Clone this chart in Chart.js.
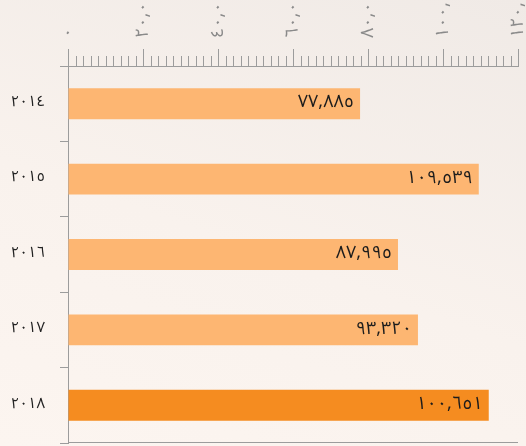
<!DOCTYPE html>
<html>
<head>
<meta charset="utf-8">
<script src="https://cdn.jsdelivr.net/npm/chart.js@4/dist/chart.umd.min.js"></script>
<style>
  html, body { margin: 0; padding: 0; }
  body {
    width: 526px; height: 446px; overflow: hidden;
    background: linear-gradient(20deg, #fcf5f0 0%, #f9f2ed 45%, #f0eae6 100%);
  }
  canvas { display: block; }
</style>
</head>
<body>
<canvas id="container" width="526" height="446"></canvas>
<script>
let years = ['2014', '2015', '2016', '2017', '2018'];
// bar lengths as drawn
let values = [77885, 109539, 87995, 93320, 112200];
// numbers printed on the bars
let shownValues = [77885, 109539, 87995, 93320, 100651];
let barColors = ['#fdb672', '#fdb672', '#fdb672', '#fdb672', '#f58c20'];
let xMax = 120000;
let majorStep = 20000;
let minorStep = 2000;

const arDigits = '٠١٢٣٤٥٦٧٨٩';
function toAr(s) {
  return String(s).replace(/[0-9]/g, d => arDigits[d]);
}
function fmt(n) {
  return toAr(Number(n).toLocaleString('en-US'));
}

const axisColor = '#9c9c9c';
const fontFamily = '"Noto Sans Arabic", "DejaVu Sans", sans-serif';

// short ticks between the labelled ones, plus the line under the plot
const minorTicks = {
  id: 'minorTicks',
  afterDraw(chart) {
    const x = chart.scales.x;
    const ctx = chart.ctx;
    const area = chart.chartArea;
    ctx.save();
    ctx.strokeStyle = axisColor;
    ctx.lineWidth = 1;
    for (let v = 0; v <= xMax; v += minorStep) {
      if (v % majorStep === 0) continue;
      const px = Math.round(x.getPixelForValue(v)) + 0.5;
      ctx.beginPath();
      ctx.moveTo(px, x.bottom - 10);
      ctx.lineTo(px, x.bottom);
      ctx.stroke();
    }
    const by = Math.round(area.bottom) - 0.5;
    ctx.beginPath();
    ctx.moveTo(area.left, by);
    ctx.lineTo(area.right, by);
    ctx.stroke();
    ctx.restore();
  }
};

const barLabels = {
  id: 'barLabels',
  afterDatasetsDraw(chart) {
    const ctx = chart.ctx;
    const meta = chart.getDatasetMeta(0);
    ctx.save();
    ctx.font = '18px ' + fontFamily;
    ctx.fillStyle = '#1c1c1c';
    ctx.textAlign = 'right';
    ctx.textBaseline = 'middle';
    meta.data.forEach((bar, i) => {
      ctx.fillText(fmt(shownValues[i]), bar.x - 6, bar.y + 1);
    });
    ctx.restore();
  }
};

let ctx = document.getElementById('container').getContext('2d');

let myChart = new Chart(ctx, {
  type: 'bar',
  data: {
    labels: years,
    datasets: [{
      data: values,
      backgroundColor: barColors,
      borderWidth: 0,
      barPercentage: 0.41,
      categoryPercentage: 1
    }]
  },
  options: {
    indexAxis: 'y',
    responsive: false,
    animation: false,
    layout: { padding: { top: 0, right: 8, bottom: 3, left: 0 } },
    plugins: {
      legend: { display: false },
      tooltip: { enabled: false }
    },
    scales: {
      x: {
        type: 'linear',
        position: 'top',
        min: 0,
        max: xMax,
        afterFit: s => { s.height = 66; s.paddingLeft = 0; s.paddingRight = 0; },
        grid: { drawOnChartArea: false, tickLength: 17, color: axisColor },
        border: { color: axisColor },
        ticks: {
          stepSize: majorStep,
          minRotation: 90,
          maxRotation: 90,
          padding: 11,
          labelOffset: 24,
          color: '#8a8a8a',
          font: { size: 18, family: fontFamily },
          callback: v => fmt(v)
        }
      },
      y: {
        position: 'left',
        offset: true,
        afterFit: s => { s.width = 68; s.paddingTop = 0; s.paddingBottom = 0; },
        grid: { offset: true, drawOnChartArea: false, tickLength: 8, color: axisColor },
        border: { color: axisColor },
        ticks: {
          padding: 15,
          color: '#222222',
          font: { size: 15, family: fontFamily },
          callback: (v, i) => toAr(years[i])
        }
      }
    }
  },
  plugins: [minorTicks, barLabels]
});
</script>
</body>
</html>
